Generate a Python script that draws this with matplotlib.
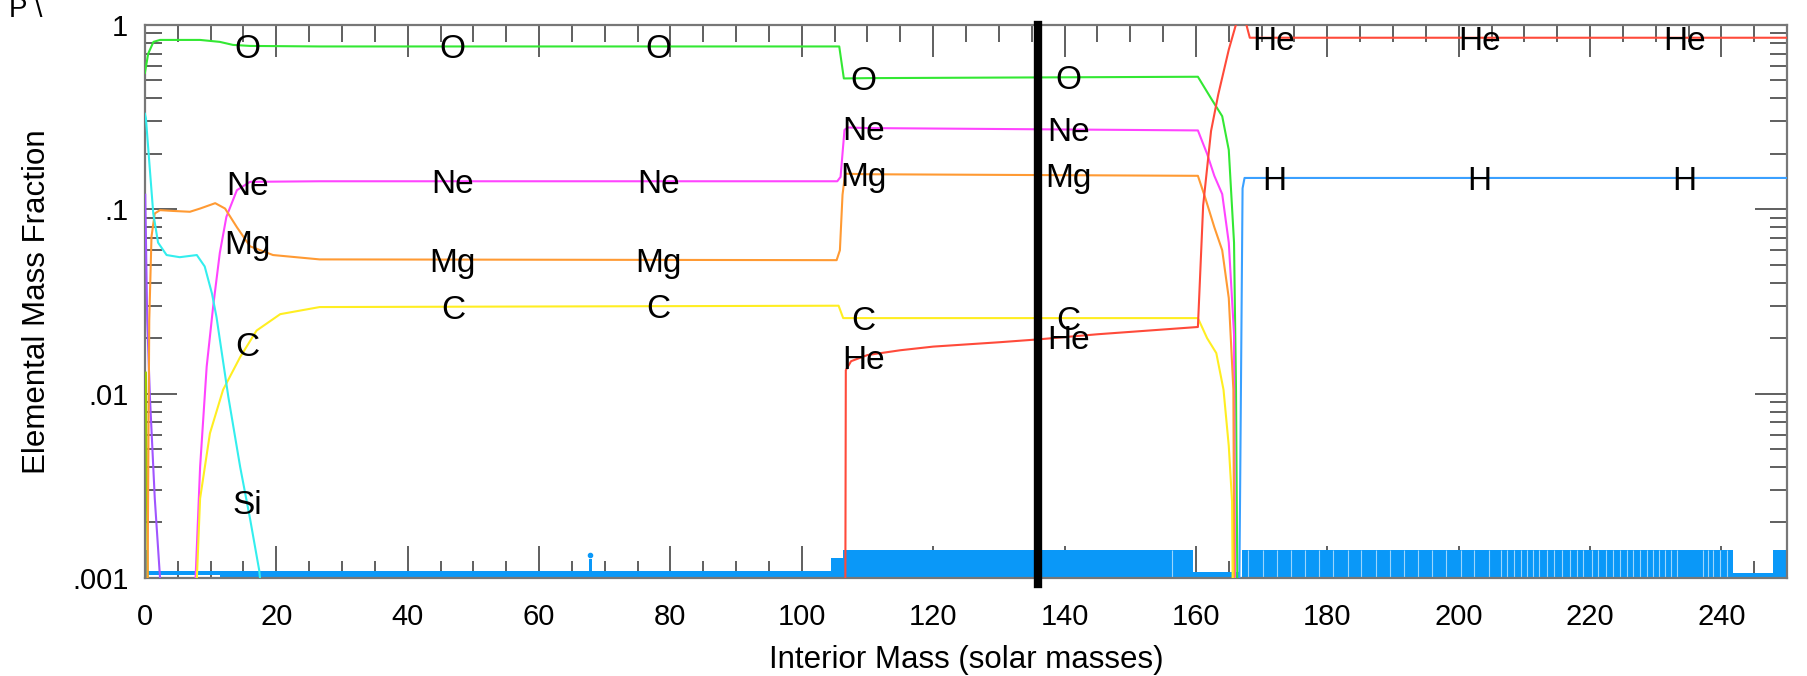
import numpy as np
import matplotlib
matplotlib.use('Agg')
import matplotlib.pyplot as plt
import matplotlib.ticker as ticker

plt.rcParams['font.family'] = ['Liberation Sans', 'DejaVu Sans']

# element profiles, x = interior mass (solar masses), y = mass fraction
O_x = [0.0, 0.5, 1.3, 2.3, 8.4, 11.4, 13.4, 16.0, 26.6, 105.7, 106.4, 110.0, 160.3, 162.3, 164.0, 165.0, 165.8, 166.1, 166.4]
O_y = [0.55, 0.70, 0.81, 0.83, 0.83, 0.81, 0.78, 0.77, 0.765, 0.765, 0.513, 0.515, 0.524, 0.40, 0.32, 0.21, 0.066, 0.0105, 0.0003]

Ne_x = [7.6, 8.4, 9.4, 10.4, 11.4, 12.4, 14.0, 16.0, 26.6, 105.4, 105.9, 106.5, 107.0, 110.0, 160.3, 161.7, 162.8, 164.0, 165.0, 165.8, 166.0]
Ne_y = [0.0008, 0.004, 0.014, 0.030, 0.058, 0.091, 0.127, 0.141, 0.142, 0.142, 0.150, 0.27, 0.278, 0.276, 0.268, 0.20, 0.152, 0.121, 0.066, 0.021, 0.0003]

Mg_x = [0.35, 0.66, 1.0, 1.5, 2.3, 4.3, 6.85, 8.4, 10.7, 12.2, 14.0, 16.0, 19.5, 26.6, 105.3, 105.8, 106.2, 106.6, 110.0, 160.3, 161.4, 162.8, 164.0, 165.0, 165.7, 165.9]
Mg_y = [0.0005, 0.025, 0.071, 0.095, 0.099, 0.098, 0.097, 0.101, 0.108, 0.101, 0.080, 0.063, 0.0565, 0.0535, 0.053, 0.060, 0.12, 0.156, 0.155, 0.152, 0.116, 0.080, 0.060, 0.033, 0.0105, 0.0003]

C_x = [7.8, 8.4, 9.9, 11.9, 14.5, 17.0, 20.6, 26.6, 105.6, 106.3, 110.0, 160.3, 161.7, 163.1, 164.2, 165.0, 165.5, 165.7]
C_y = [0.0008, 0.0027, 0.0061, 0.0105, 0.0158, 0.022, 0.027, 0.0295, 0.030, 0.0257, 0.0257, 0.0257, 0.020, 0.0166, 0.0105, 0.0052, 0.0026, 0.0003]

Si_x = [0.0, 0.15, 0.76, 1.27, 2.0, 3.3, 5.3, 7.9, 9.1, 10.2, 10.9, 12.7, 14.5, 16.0, 17.4, 17.8]
Si_y = [0.33, 0.312, 0.163, 0.095, 0.066, 0.0565, 0.055, 0.0565, 0.049, 0.035, 0.026, 0.0096, 0.0040, 0.0021, 0.0011, 0.0008]

He_x = [106.6, 106.7, 107.5, 110.0, 115.0, 120.0, 130.0, 136.0, 145.0, 160.3, 161.1, 162.3, 163.4, 165.0, 166.0, 166.2, 167.6, 168.2, 250.0]
He_y = [0.0003, 0.0134, 0.0150, 0.0162, 0.0172, 0.0180, 0.0190, 0.0197, 0.0210, 0.0230, 0.105, 0.266, 0.42, 0.735, 0.98, 1.03, 1.03, 0.853, 0.853]

H_x = [166.5, 167.1, 167.4, 250.0]
H_y = [0.0003, 0.13, 0.148, 0.148]

Fe_x = [0.05, 0.35, 0.76, 1.5, 2.3, 2.5]
Fe_y = [0.12, 0.025, 0.0096, 0.0027, 0.001, 0.0008]

S_x = [0.15, 0.3, 0.45]
S_y = [0.013, 0.003, 0.0008]

# convective zones drawn along the bottom
zone_x0 = [0.0, 0.3, 11.4, 67.6, 104.5, 106.3, 159.6, 167.0, 241.8, 247.9]
zone_x1 = [0.3, 11.4, 104.5, 68.0, 106.3, 159.6, 166.5, 241.8, 247.9, 250.0]
zone_lo = [0.001, 0.00104, 0.001, 0.001, 0.001, 0.001, 0.001, 0.001, 0.001, 0.001]
zone_hi = [0.00142, 0.00109, 0.00109, 0.00126, 0.00128, 0.00142, 0.00108, 0.00142, 0.00106, 0.00142]
zone_gaps = [156.3, 168.0, 170.2, 172.3, 174.5, 176.6, 178.8, 180.9, 183.1, 185.2, 187.4, 189.5,
             191.7, 193.8, 196.0, 198.1, 200.3, 202.4, 204.6, 206.5,
             207.4, 208.4, 209.5, 210.4, 211.3, 212.2, 213.5, 214.5, 215.7, 216.9, 218.0, 218.9, 220.3,
             221.2, 222.4, 223.5, 224.5, 225.6, 226.5, 227.6, 228.7, 229.6, 230.5, 231.4, 232.3, 233.2,
             237.2, 237.9, 238.7, 239.8, 240.9]

label_x = [15.625, 46.875, 78.125, 109.375, 140.625, 171.875, 203.125, 234.375]
marker_x = 136.0

xticks = [0, 20, 40, 60, 80, 100, 120, 140, 160, 180, 200, 220, 240]
yticks = [0.001, 0.01, 0.1, 1]
ytick_labels = ['.001', '.01', '.1', '1']

elements = [
    ('O', O_x, O_y, '#33E833'),
    ('Ne', Ne_x, Ne_y, '#FF44FF'),
    ('Mg', Mg_x, Mg_y, '#FF9A33'),
    ('C', C_x, C_y, '#FFEE22'),
    ('Si', Si_x, Si_y, '#33EEEE'),
    ('He', He_x, He_y, '#FF4A3A'),
    ('H', H_x, H_y, '#3AA0FF'),
]

fig = plt.figure(figsize=(18.07, 6.76), dpi=100)
ax = fig.add_axes([0.0802, 0.145, 0.9088, 0.818])
ax.set_yscale('log')
ax.set_xlim(0, 250)
ax.set_ylim(0.001, 1)

conv = '#0A98F8'
for i in range(len(zone_x0)):
    ax.fill_between([zone_x0[i], zone_x1[i]], zone_lo[i], zone_hi[i], color=conv, lw=0, zorder=2)
ax.vlines(zone_gaps, 0.001, 0.00142, color='white', lw=0.8, alpha=0.6, zorder=2)
ax.plot([67.8], [0.00134], 'o', color=conv, ms=3, zorder=2)

ax.plot(Fe_x, Fe_y, color='#A055FF', lw=1.5, zorder=3)
ax.plot(S_x, S_y, color='#99CC00', lw=1.5, zorder=3)
for name, xs, ys, col in elements:
    ax.plot(xs, ys, color=col, lw=1.5, zorder=3)

# element labels placed on the curves
for name, xs, ys, col in elements:
    for lx in label_x:
        v = np.interp(lx, xs, ys, left=0, right=0)
        if v > 0.0012:
            ax.text(lx, v, name, fontsize=24, ha='center', va='center_baseline', zorder=5)

ax.plot([marker_x, marker_x], [1.0, 0.00093], color='black', lw=6, clip_on=False, zorder=6)

ax.set_xticks(xticks)
ax.xaxis.set_minor_locator(ticker.MultipleLocator(5))
ax.set_yticks(yticks)
ax.set_yticklabels(ytick_labels)
ax.yaxis.set_minor_locator(ticker.LogLocator(base=10, subs=np.arange(2, 10)))
ax.yaxis.set_minor_formatter(ticker.NullFormatter())
ax.tick_params(which='both', direction='in', top=True, right=True, colors='#444444', labelcolor='black')
ax.tick_params(which='major', length=23, width=1.2, labelsize=21)
ax.tick_params(axis='x', which='major', pad=18)
ax.tick_params(axis='y', which='major', pad=12)
ax.tick_params(which='minor', length=12, width=1.2)
for s in ax.spines.values():
    s.set_color('#777777')
    s.set_linewidth(1.6)

ax.set_xlabel('Interior Mass (solar masses)', fontsize=22.5, labelpad=10)
ax.set_ylabel('Elemental Mass Fraction', fontsize=22.5, labelpad=14)

fig.text(0.005, 1.005, 'Ρ \\', fontsize=20, ha='left', va='top')

fig.savefig('out.png', dpi=100)
